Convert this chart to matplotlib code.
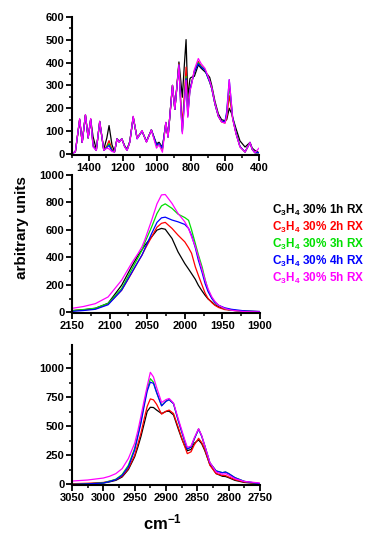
import matplotlib
matplotlib.use("Agg")
import matplotlib.pyplot as plt
from matplotlib.ticker import MultipleLocator

plt.rcParams['font.family'] = ['Liberation Sans', 'DejaVu Sans']
plt.rcParams['font.weight'] = 'bold'
plt.rcParams['mathtext.default'] = 'regular'

# ---------------- data ----------------
labels = ["C$_3$H$_4$ 30% 1h RX", "C$_3$H$_4$ 30% 2h RX", "C$_3$H$_4$ 30% 3h RX",
          "C$_3$H$_4$ 30% 4h RX", "C$_3$H$_4$ 30% 5h RX"]
colors = ["#000000", "#ff0000", "#00e000", "#0000ff", "#ff00ff"]

# top panel (1500-400 cm-1)
top_x = [1500, 1480, 1455, 1440, 1421, 1405, 1390, 1376, 1357, 1337, 1313, 1295, 1282, 1265,
         1250, 1235, 1223, 1207, 1190, 1176, 1160, 1140, 1117, 1088, 1062, 1033, 1003, 988,
         968, 948, 935, 909, 895, 871, 860, 851, 840, 829, 819, 806, 800, 780, 757, 740,
         718, 700, 690, 678, 659, 639, 620, 600, 590, 575, 560, 555, 535, 512, 482, 453,
         440, 424, 400]
top_1h = [0, 10, 150, 50, 170, 70, 150, 75, 20, 140, 20, 70, 124, 40,
          10, 66, 55, 66, 35, 20, 55, 160, 70, 100, 55, 105, 44, 51,
          29, 135, 75, 300, 195, 403, 320, 248, 380, 501, 250, 330, 335, 340, 390, 375,
          360, 345, 335, 300, 230, 175, 150, 145, 150, 200, 175, 160, 110, 57, 30, 50,
          25, 15, 5]
top_2h = [0, 10, 150, 50, 170, 70, 152, 40, 15, 142, 15, 35, 58, 20,
          8, 66, 52, 66, 32, 17, 52, 162, 68, 100, 53, 105, 35, 45,
          20, 137, 74, 300, 195, 395, 230, 130, 250, 380, 190, 290, 300, 365, 405, 385,
          370, 335, 315, 287, 218, 165, 140, 135, 160, 255, 185, 154, 88, 32, 8, 50,
          20, 5, 5]
top_3h = [0, 10, 150, 50, 170, 70, 152, 35, 15, 142, 15, 30, 45, 15,
          8, 66, 52, 66, 32, 16, 52, 162, 68, 100, 53, 105, 35, 45,
          22, 137, 74, 300, 195, 392, 210, 100, 220, 340, 170, 285, 298, 362, 400, 382,
          370, 333, 315, 287, 218, 165, 142, 140, 175, 300, 195, 158, 90, 32, 8, 50,
          20, 5, 5]
top_4h = [0, 10, 150, 50, 170, 70, 152, 35, 15, 142, 15, 28, 37, 14,
          8, 66, 52, 66, 32, 16, 52, 162, 66, 100, 53, 105, 40, 45,
          25, 137, 74, 300, 195, 390, 205, 95, 215, 330, 165, 283, 300, 360, 395, 380,
          368, 333, 315, 287, 218, 165, 142, 142, 185, 325, 200, 158, 90, 32, 8, 50,
          20, 5, 5]
top_5h = [0, 10, 155, 50, 172, 70, 155, 30, 15, 143, 15, 25, 22, 10,
          8, 66, 51, 66, 30, 15, 50, 165, 66, 102, 51, 105, 25, 40,
          7, 139, 73, 300, 195, 390, 200, 88, 210, 322, 160, 280, 290, 370, 418, 395,
          375, 340, 320, 290, 220, 165, 140, 135, 170, 325, 200, 154, 88, 30, 8, 50,
          20, 5, 25]

# middle panel (2150-1900 cm-1)
mid_x = [2150, 2135, 2119, 2102, 2084, 2071, 2062, 2057, 2053, 2044, 2037, 2031, 2026, 2017,
         2009, 2000, 1995, 1991, 1986, 1982, 1977, 1973, 1969, 1964, 1960, 1955, 1947, 1938,
         1920, 1900]
mid_1h = [12, 18, 29, 66, 197, 331, 416, 455, 489, 550, 599, 611, 605, 538,
          440, 355, 315, 282, 240, 197, 155, 124, 97, 75, 55, 40, 25, 15, 8, 5]
mid_2h = [12, 17, 26, 60, 161, 282, 370, 416, 460, 550, 620, 648, 655, 611,
          562, 513, 470, 430, 331, 270, 197, 140, 100, 70, 51, 35, 20, 15, 7, 5]
mid_3h = [12, 20, 30, 64, 173, 307, 400, 453, 510, 623, 720, 775, 790, 757,
          715, 690, 670, 600, 501, 420, 331, 240, 161, 105, 75, 50, 27, 15, 7, 4]
mid_4h = [7, 13, 22, 55, 161, 285, 370, 416, 465, 575, 655, 688, 693, 672,
          659, 640, 611, 560, 470, 380, 290, 209, 150, 100, 72, 51, 33, 22, 10, 6]
mid_5h = [29, 42, 63, 112, 234, 355, 430, 477, 530, 672, 790, 855, 858, 793,
          720, 659, 610, 550, 480, 404, 310, 234, 170, 112, 80, 51, 28, 15, 5, 3]

# bottom panel (3050-2750 cm-1)
bot_x = [3050, 3025, 3000, 2990, 2980, 2970, 2960, 2950, 2945, 2940, 2935, 2930, 2925, 2920,
         2915, 2907, 2900, 2895, 2888, 2880, 2875, 2870, 2866, 2860, 2855, 2848, 2843, 2838,
         2830, 2820, 2810, 2805, 2800, 2790, 2775, 2750]
bot_1h = [0, 5, 12, 22, 35, 64, 128, 238, 320, 412, 520, 629, 664, 662,
          640, 610, 628, 630, 598, 470, 395, 330, 290, 301, 354, 383, 350, 290,
          171, 93, 70, 68, 58, 35, 17, 6]
bot_2h = [6, 10, 17, 28, 41, 70, 136, 252, 345, 441, 560, 672, 736, 728,
          690, 605, 630, 640, 610, 484, 400, 325, 265, 281, 339, 397, 360, 300,
          165, 93, 78, 76, 64, 41, 20, 6]
bot_3h = [0, 5, 14, 28, 45, 85, 165, 310, 425, 545, 690, 820, 910, 880,
          795, 678, 718, 730, 695, 542, 455, 368, 305, 322, 390, 478, 415, 330,
          186, 116, 101, 107, 93, 58, 26, 6]
bot_4h = [0, 5, 12, 25, 41, 78, 151, 296, 410, 528, 670, 803, 880, 870,
          790, 676, 715, 730, 695, 542, 455, 368, 305, 322, 390, 475, 415, 330,
          186, 116, 101, 107, 93, 58, 26, 6]
bot_5h = [29, 38, 55, 70, 93, 136, 223, 354, 460, 586, 720, 846, 965, 925,
          835, 705, 730, 740, 700, 557, 470, 383, 320, 330, 400, 480, 420, 330,
          190, 107, 87, 93, 80, 49, 26, 12]

# ---------------- figure ----------------
W, H = 367, 542
fig = plt.figure(figsize=(W / 100, H / 100), dpi=100)

def add_ax(l, r, t, b):
    return fig.add_axes([l / W, 1 - b / H, (r - l) / W, (b - t) / H])

ax1 = add_ax(72, 259, 17, 155)
ax2 = add_ax(72, 260, 175, 313)
ax3 = add_ax(72, 260, 345, 485)

panels = [
    (ax1, top_x, [top_1h, top_2h, top_3h, top_4h, top_5h], (1500, 400), (-5, 600), 200, 100, 100, 50),
    (ax2, mid_x, [mid_1h, mid_2h, mid_3h, mid_4h, mid_5h], (2150, 1900), (-5, 1000), 50, 25, 200, 100),
    (ax3, bot_x, [bot_1h, bot_2h, bot_3h, bot_4h, bot_5h], (3050, 2750), (-5, 1200), 50, 25, 250, 125),
]

for ax, xs, ys, xl, yl, xmaj, xmin, ymaj, ymin in panels:
    for y, c in zip(ys, colors):
        ax.plot(xs, y, color=c, lw=0.9)
    ax.set_xlim(*xl)
    ax.set_ylim(*yl)
    ax.xaxis.set_major_locator(MultipleLocator(xmaj))
    ax.xaxis.set_minor_locator(MultipleLocator(xmin))
    ax.yaxis.set_major_locator(MultipleLocator(ymaj))
    ax.yaxis.set_minor_locator(MultipleLocator(ymin))
    ax.spines['top'].set_visible(False)
    ax.spines['right'].set_visible(False)
    for s in ('left', 'bottom'):
        ax.spines[s].set_linewidth(1.5)
    ax.tick_params(which='major', direction='out', length=4, width=1.3, labelsize=8, pad=1.5)
    ax.tick_params(which='minor', direction='out', length=2.5, width=1.1)
    for lab in ax.get_xticklabels() + ax.get_yticklabels():
        lab.set_fontweight('bold')

ax3.set_yticks([0, 250, 500, 750, 1000])
ax3.yaxis.set_minor_locator(MultipleLocator(125))

# legend text
leg_y = [210, 227, 244, 261, 278]
for lab, c, y in zip(labels, colors, leg_y):
    fig.text(272 / W, 1 - y / H, lab, color=c, fontsize=8.5, fontweight='bold', va='center', ha='left')

fig.text(22 / W, 1 - 228 / H, "arbitrary units", rotation=90, fontsize=11, fontweight='bold',
         va='center', ha='center')
fig.text(163 / W, 1 - 522 / H, "cm$^{-1}$", fontsize=12, fontweight='bold', va='center', ha='center')

fig.savefig("out.png", dpi=100)
